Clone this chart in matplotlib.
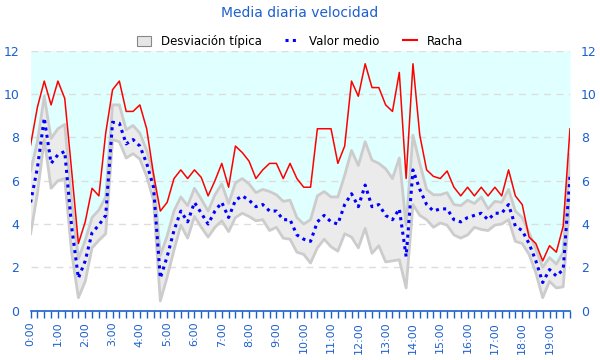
import matplotlib
matplotlib.use("Agg")
import matplotlib.pyplot as plt
from matplotlib.lines import Line2D
from matplotlib.patches import Patch
import numpy as np

# 15-minute samples from 0:00 to 19:45
hour_labels = [f"{h}:00" for h in range(20)]

mean_speed = [5.0, 6.6, 8.9, 6.8, 7.2, 7.35, 3.9, 1.5, 2.3, 3.6,
              3.95, 4.4, 8.7, 8.65, 7.7, 7.9, 7.6, 6.8, 5.7, 1.5,
              2.5, 3.7, 4.6, 4.1, 5.0, 4.5, 4.0, 4.6, 5.0, 4.3,
              5.1, 5.3, 5.1, 4.8, 4.9, 4.6, 4.6, 4.2, 4.2, 3.5,
              3.3, 3.2, 4.1, 4.4, 4.1, 4.0, 4.9, 5.4, 4.8, 5.8,
              4.8, 4.9, 4.4, 4.2, 4.7, 2.5, 6.5, 5.6, 4.9, 4.6,
              4.7, 4.7, 4.2, 4.1, 4.3, 4.4, 4.5, 4.2, 4.5, 4.5,
              4.9, 3.9, 3.7, 3.1, 2.3, 1.3, 1.9, 1.6, 1.9, 6.2]

std_speed = [1.45, 1.2, 1.0, 1.15, 1.2, 1.25, 1.2, 0.9, 0.95, 0.7,
             0.7, 0.85, 0.8, 0.85, 0.65, 0.65, 0.6, 0.6, 0.6, 1.05,
             0.95, 0.9, 0.65, 0.75, 0.65, 0.65, 0.6, 0.75, 0.85, 0.65,
             0.8, 0.8, 0.75, 0.65, 0.7, 0.9, 0.75, 0.85, 0.9, 0.8,
             0.7, 1.0, 1.2, 1.1, 1.15, 1.25, 1.35, 2.0, 1.9, 2.0,
             2.15, 1.9, 2.15, 1.9, 2.35, 1.45, 1.6, 1.2, 0.7, 0.75,
             0.65, 0.75, 0.7, 0.75, 0.8, 0.55, 0.75, 0.5, 0.55, 0.5,
             0.7, 0.7, 0.6, 0.5, 0.55, 0.7, 0.55, 0.55, 0.8, 1.0]

gust = [7.65, 9.4, 10.6, 9.5, 10.6, 9.8, 6.5, 3.1, 4.1, 5.65,
        5.3, 8.2, 10.2, 10.6, 9.2, 9.2, 9.5, 8.4, 6.3, 4.6,
        5.0, 6.1, 6.5, 6.1, 6.5, 6.15, 5.3, 6.0, 6.8, 5.7,
        7.6, 7.3, 6.9, 6.1, 6.5, 6.8, 6.8, 6.1, 6.8, 6.1,
        5.7, 5.7, 8.4, 8.4, 8.4, 6.8, 7.6, 10.6, 9.9, 11.4,
        10.3, 10.3, 9.5, 9.2, 11.0, 6.1, 11.4, 8.1, 6.5, 6.2,
        6.1, 6.45, 5.7, 5.3, 5.7, 5.3, 5.7, 5.3, 5.7, 5.3,
        6.5, 5.3, 4.9, 3.4, 3.1, 2.3, 3.0, 2.7, 3.9, 8.4]

BLUE_TXT = "#1c5fcf"

x = np.arange(len(mean_speed))
mean = np.array(mean_speed)
std = np.array(std_speed)
upper = mean + std
lower = mean - std

fig = plt.figure(figsize=(6, 3.6), dpi=100)
ax = fig.add_axes([0.051, 0.137, 0.899, 0.722])

ax.fill_between(x, upper, 12, color="#e0ffff", lw=0, zorder=1)
for yv in range(2, 13, 2):
    ax.axhline(yv, color="#dddddd", lw=1, ls=(0, (5, 4)), zorder=1.5)
ax.fill_between(x, lower, upper, color="#ebebeb", lw=0, zorder=2)
ax.plot(x, upper, color="#cccccc", lw=2, zorder=3)
ax.plot(x, lower, color="#cccccc", lw=2, zorder=3)
ax.plot(x, gust, color="#ff0000", lw=1.1, zorder=5)
ax.plot(x, mean, color="#0000ff", lw=2.2, linestyle=(0, (1, 1.4)), zorder=6)

ax.set_xlim(0, len(x) - 1)
ax.set_ylim(0, 12)
ax.set_yticks(range(0, 13, 2))

ax.set_xticks(x[::4])
ax.set_xticklabels(hour_labels, rotation=90, va="top", ha="center")
ax.set_xticks(x, minor=True)
ax.tick_params(axis="x", which="both", length=5, width=1, color=BLUE_TXT,
               direction="out", labelsize=8, labelcolor=BLUE_TXT, pad=3)
ax.tick_params(axis="y", length=0, labelsize=9, labelcolor=BLUE_TXT,
               left=True, right=True, labelleft=True, labelright=True, pad=8)

for side in ["left", "right", "top"]:
    ax.spines[side].set_visible(False)
ax.spines["bottom"].set_color(BLUE_TXT)
ax.spines["bottom"].set_linewidth(1.2)
ax.spines["bottom"].set_zorder(7)

fig.text(0.5, 0.965, "Media diaria velocidad", ha="center", va="center",
         color=BLUE_TXT, fontsize=10)

handles = [
    Patch(facecolor="#e6e6e6", edgecolor="#888888", lw=0.8),
    Line2D([], [], color="#0000ff", lw=2.2, linestyle=(0, (1, 1.4))),
    Line2D([], [], color="#ff0000", lw=1.5),
]
fig.legend(handles, ["Desviación típica", "Valor medio", "Racha"],
           loc="center", bbox_to_anchor=(0.5, 0.885), ncol=3, frameon=False,
           fontsize=8.5, handlelength=1.2, handleheight=0.9, columnspacing=2.0,
           handletextpad=0.8)

fig.savefig("out.png", dpi=100)
